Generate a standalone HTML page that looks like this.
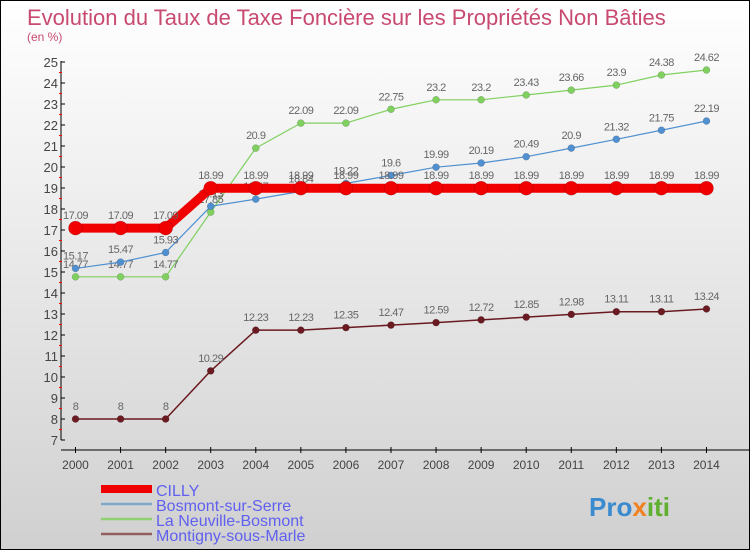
<!DOCTYPE html>
<html><head><meta charset="utf-8">
<style>
html,body{margin:0;padding:0}
body{width:750px;height:550px;overflow:hidden;font-family:"Liberation Sans",sans-serif}
#wrap{position:relative;width:748px;height:548px;border:1px solid #000;background:linear-gradient(#ffffff,#d0d0d0)}
svg{position:absolute;left:0;top:0}
</style></head><body>
<div id="wrap">
<svg id="c" width="748" height="548">
<text x="26" y="24" font-size="22" fill="#c84a70">Evolution du Taux de Taxe Foncière sur les Propriétés Non Bâties</text>
<text x="26" y="40" font-size="12" fill="#c84a70">(en %)</text>
<text x="588" y="515" font-size="26" font-weight="bold" fill="#3a8ad0">Pro<tspan fill="#f08020">x</tspan><tspan fill="#60b030">iti</tspan></text>
</svg>
</div>
<script>
const years=[2000,2001,2002,2003,2004,2005,2006,2007,2008,2009,2010,2011,2012,2013,2014];
const cilly=[17.09,17.09,17.09,18.99,18.99,18.99,18.99,18.99,18.99,18.99,18.99,18.99,18.99,18.99,18.99];
const bosmont=[15.17,15.47,15.93,18.13,18.47,18.84,19.22,19.6,19.99,20.19,20.49,20.9,21.32,21.75,22.19];
const neuville=[14.77,14.77,14.77,17.85,20.9,22.09,22.09,22.75,23.2,23.2,23.43,23.66,23.9,24.38,24.62];
const montigny=[8,8,8,10.29,12.23,12.23,12.35,12.47,12.59,12.72,12.85,12.98,13.11,13.11,13.24];
const yTicks=[7,8,9,10,11,12,13,14,15,16,17,18,19,20,21,22,23,24,25];
const seriesNames=["CILLY","Bosmont-sur-Serre","La Neuville-Bosmont","Montigny-sous-Marle"];
const NS="http://www.w3.org/2000/svg";
const svg=document.getElementById('c');
const X=i=>74.5+i*45.07;
const Y=v=>439-(v-7)*21;
function mk(t,a,p){const e=document.createElementNS(NS,t);for(const k in a)e.setAttribute(k,a[k]);(p||svg).appendChild(e);return e;}
let g=mk('g',{});


mk('line',{x1:60,y1:Y(25)-1,x2:60,y2:Y(7),stroke:'#000','stroke-width':1},g);
yTicks.forEach(v=>{
 mk('line',{x1:60,y1:Y(v),x2:64,y2:Y(v),stroke:'#000'},g);
 if(v<25) mk('line',{x1:58,y1:Y(v+0.5),x2:61,y2:Y(v+0.5),stroke:'#f00'},g);
 const t=mk('text',{x:57,y:Y(v)+5,'text-anchor':'end','font-size':13,fill:'#444'},g);t.textContent=v;
 
 
});
let gx=mk('g',{});


mk('line',{x1:60,y1:449,x2:748,y2:449,stroke:'#000'},gx);
years.forEach((yr,i)=>{
 mk('line',{x1:X(i),y1:446,x2:X(i),y2:452,stroke:'#000'},gx);
 const t=mk('text',{x:X(i),y:468,'text-anchor':'middle','font-size':12,fill:'#444'},gx);t.textContent=yr;
 
 
});
function series(data,color,lw,r,name){
 const gs=mk('g',{});
 
 
 mk('polyline',{points:data.map((v,i)=>X(i)+','+Y(v)).join(' '),fill:'none',stroke:color,'stroke-width':lw,'stroke-linejoin':'round'},gs);
 data.forEach((v,i)=>{
  const c=mk('circle',{cx:X(i),cy:Y(v),r:r,fill:color,stroke:'rgba(0,0,0,0.25)','stroke-width':0.5},gs);
  
  
  const t=mk('text',{x:X(i),y:Y(v)-9,'text-anchor':'middle','font-size':11,fill:'#666','letter-spacing':'-0.5'},gs);t.textContent=v;
  
  
 });
}
series(montigny,'#6a1a20',1.5,3.5,'series-montigny');
series(neuville,'#80d060',1.2,3.5,'series-neuville');
series(bosmont,'#5090d0',1.2,3.5,'series-bosmont');
series(cilly,'#f00000',9,7,'series-cilly');
const lg=mk('g',{});


const lc=['#f00000','#80a8c8','#90d070','#906060'],lw=[8,2.5,2.5,2.5],ly=[492,507,522,537];
seriesNames.forEach((n,i)=>{
 const e=mk('g',{},lg);
 
 
 mk('line',{x1:100,y1:ly[i]-4,x2:151,y2:ly[i]-4,stroke:lc[i],'stroke-width':lw[i]},e);
 const t=mk('text',{x:155,y:ly[i]+3,'font-size':16,fill:'#6060f0'},e);t.textContent=n;
});
</script>
</body></html>
